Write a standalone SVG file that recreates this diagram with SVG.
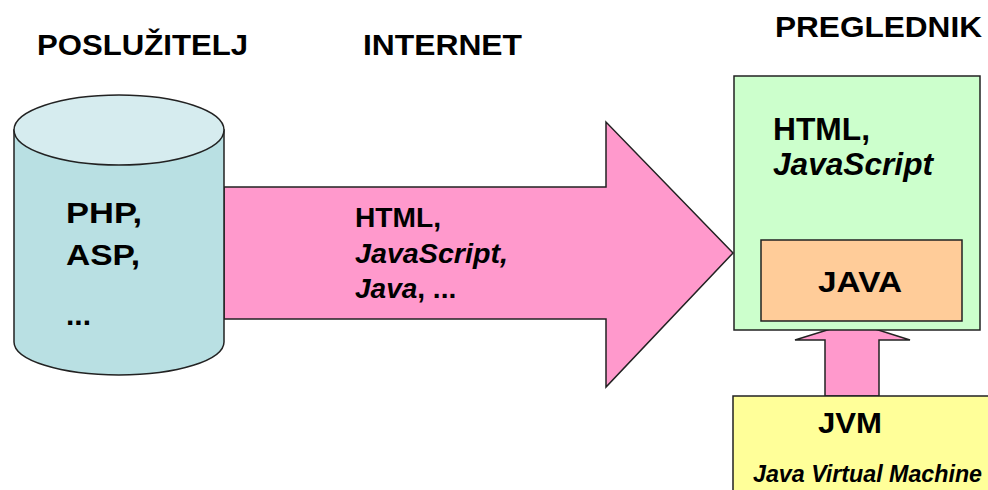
<svg xmlns="http://www.w3.org/2000/svg" width="988" height="490" viewBox="0 0 988 490">
<style>
text{font-family:"Liberation Sans",Arial,sans-serif;font-weight:bold;fill:#000}
.it{font-style:italic}
.shape{stroke:#222;stroke-width:1.5}
</style>
<rect width="988" height="490" fill="#fff"/>
<g id="titles">
<text x="37" y="55" font-size="29" textLength="211" lengthAdjust="spacingAndGlyphs">POSLUŽITELJ</text>
<text x="363" y="55" font-size="29" textLength="159" lengthAdjust="spacingAndGlyphs">INTERNET</text>
<text x="775" y="37" font-size="30" textLength="207" lengthAdjust="spacingAndGlyphs">PREGLEDNIK</text>
</g>
<g id="connectors">
<path id="big-arrow" class="shape" fill="#ff99cc" d="M224,187 L606,187 L606,122 L733,253 L606,387 L606,319 L224,319 Z"/>
<path id="small-arrow" class="shape" fill="#ff99cc" d="M825,396 L825,340 L795,340 L853,322 L910,340 L879,340 L879,396 Z"/>
</g>
<g id="server">
<path class="shape" fill="#b9e0e3" d="M14,130 L14,342 A105,33 0 0 0 224,342 L224,130 Z"/>
<ellipse class="shape" cx="119" cy="130" rx="105" ry="35" fill="#d6ecef"/>
<text x="66" y="223" font-size="30" textLength="76" lengthAdjust="spacingAndGlyphs">PHP,</text>
<text x="66" y="265" font-size="30" textLength="74" lengthAdjust="spacingAndGlyphs">ASP,</text>
<text x="66" y="325" font-size="30">...</text>
</g>
<g id="internet-label">
<text x="355" y="227" font-size="28" textLength="86" lengthAdjust="spacingAndGlyphs">HTML,</text>
<text x="355" y="263" font-size="28" class="it" textLength="153" lengthAdjust="spacingAndGlyphs">JavaScript,</text>
<text x="355" y="298" font-size="28"><tspan class="it">Java</tspan>, ...</text>
</g>
<g id="browser">
<rect class="shape" x="734" y="76" width="246" height="254" fill="#ccffcc"/>
<text x="773" y="140" font-size="31" textLength="97" lengthAdjust="spacingAndGlyphs">HTML,</text>
<text x="773" y="175" font-size="31" class="it" textLength="160" lengthAdjust="spacingAndGlyphs">JavaScript</text>
</g>
<g id="java">
<rect class="shape" x="761" y="240" width="201" height="81" fill="#ffcc99"/>
<text x="818" y="292" font-size="30" textLength="84" lengthAdjust="spacingAndGlyphs">JAVA</text>
</g>
<g id="jvm">
<rect class="shape" x="733" y="396" width="270" height="110" fill="#ffff99"/>
<text x="818" y="433" font-size="30" textLength="64" lengthAdjust="spacingAndGlyphs">JVM</text>
<text x="753" y="482" font-size="24" class="it" textLength="229" lengthAdjust="spacingAndGlyphs">Java Virtual Machine</text>
</g>
</svg>
